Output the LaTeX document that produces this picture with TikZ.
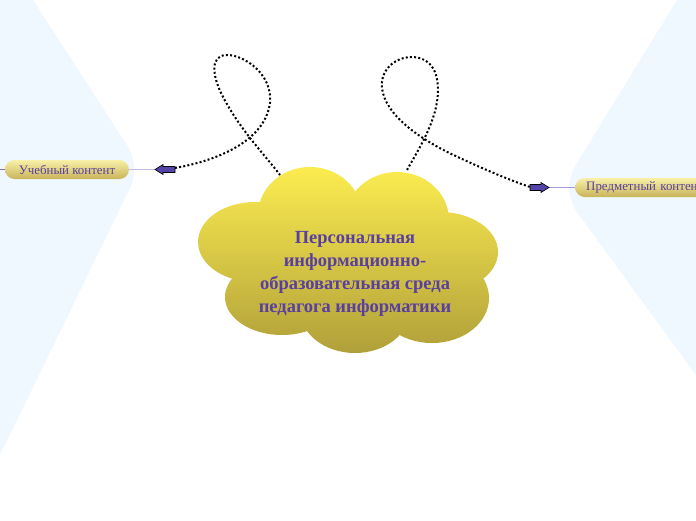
\documentclass[tikz,border=0pt]{standalone}
\usepackage{fontspec}
\setmainfont{Liberation Serif}
\usetikzlibrary{shapes.misc}
\definecolor{bgblue}{HTML}{EEF8FE}
\definecolor{txtpurple}{HTML}{5A3EA0}
\definecolor{arrowfill}{HTML}{5444A8}
\definecolor{linklav}{HTML}{C4BCE6}
\definecolor{linkpurple}{HTML}{8070C8}
\definecolor{pilltop}{HTML}{F8F0A8}
\definecolor{pillbot}{HTML}{C8B45A}
\definecolor{cloudtop}{HTML}{FCEC50}
\definecolor{cloudbot}{HTML}{B0A03A}
\tikzset{
  pill/.style={rounded rectangle, top color=pilltop, bottom color=pillbot, draw=none,
    text=txtpurple, font=\fontsize{12.9}{14}\selectfont, minimum height=19pt, inner sep=0pt},
  dotline/.style={line width=2pt, dash pattern=on 2pt off 2.2pt, black},
  blockarrow/.style={fill=arrowfill, draw=black, line width=0.6pt, line join=miter},
}
\begin{document}
\begin{tikzpicture}[x=1pt,y=-1pt]
\useasboundingbox (0,0) rectangle (696,520);
\fill[white] (0,0) rectangle (696,520);
% background panels
\fill[bgblue] (0,0) -- (33,0) -- (128,147) .. controls (136,160) and (136,178) .. (128,192) -- (0,455) -- cycle;
\fill[bgblue] (696,0) -- (677,0) -- (577,163) .. controls (567,180) and (567,196) .. (577,212) -- (696,375) -- cycle;
% cloud
\shade[top color=cloudtop, bottom color=cloudbot]
  (310,215) ellipse [x radius=52, y radius=48]
  (397,220) ellipse [x radius=52, y radius=48]
  (255,242) ellipse [x radius=57, y radius=40]
  (440,252) ellipse [x radius=58, y radius=40]
  (282,297) ellipse [x radius=57, y radius=38]
  (355,310) ellipse [x radius=55, y radius=43]
  (432,298) ellipse [x radius=57, y radius=45]
  (350,262) ellipse [x radius=95, y radius=62];
\node[align=center, text=txtpurple, font=\bfseries\fontsize{18.5}{23}\selectfont] (cloud) at (355,274)
  {Персональная\\информационно-\\образовательная среда\\педагога информатики};
\coordinate (cl1) at (280,175);
\coordinate (cl2) at (407,170);
% nodes
\node[pill, minimum width=124pt] (uch) at (67,169.5) {Учебный контент};
\node[pill, minimum width=150pt, anchor=west, text width=128pt, align=left] (pred) at (575,187.5) {Предметный контент};
% link lines
\coordinate (la) at (155,169.5);
\coordinate (ra) at (549,187.5);
\coordinate (ledge) at (0,169.5);
\draw[linkpurple, line width=1pt] (uch.west) -- (ledge);
\draw[linklav, line width=1pt] (uch.east) -- (la);
\draw[linkpurple!70, line width=0.8pt] (ra) -- (pred.west);
% block arrows
\filldraw[blockarrow] (la) -- ++(8,-5) -- ++(0,2) -- ++(12,0) -- ++(0,6) -- ++(-12,0) -- ++(0,2) -- cycle;
\filldraw[blockarrow] (ra) -- ++(-8,-5) -- ++(0,2) -- ++(-11,0) -- ++(0,6) -- ++(11,0) -- ++(0,2) -- cycle;
\coordinate (latail) at (175,168);
\coordinate (ratail) at (530,187);
% dotted connectors
\draw[dotline] (latail) .. controls (220,160) and (265,140) .. (270,103)
  .. controls (273,75) and (245,55) .. (227,55)
  .. controls (210,55) and (212,75) .. (222,95)
  .. controls (240,130) and (265,155) .. (cl1);
\draw[dotline] (cl2) .. controls (418,150) and (438,120) .. (438,90)
  .. controls (438,65) and (425,57) .. (412,57)
  .. controls (395,57) and (380,70) .. (382,88)
  .. controls (385,115) and (420,140) .. (460,158)
  .. controls (490,172) and (515,182) .. (ratail);
\end{tikzpicture}
\end{document}
